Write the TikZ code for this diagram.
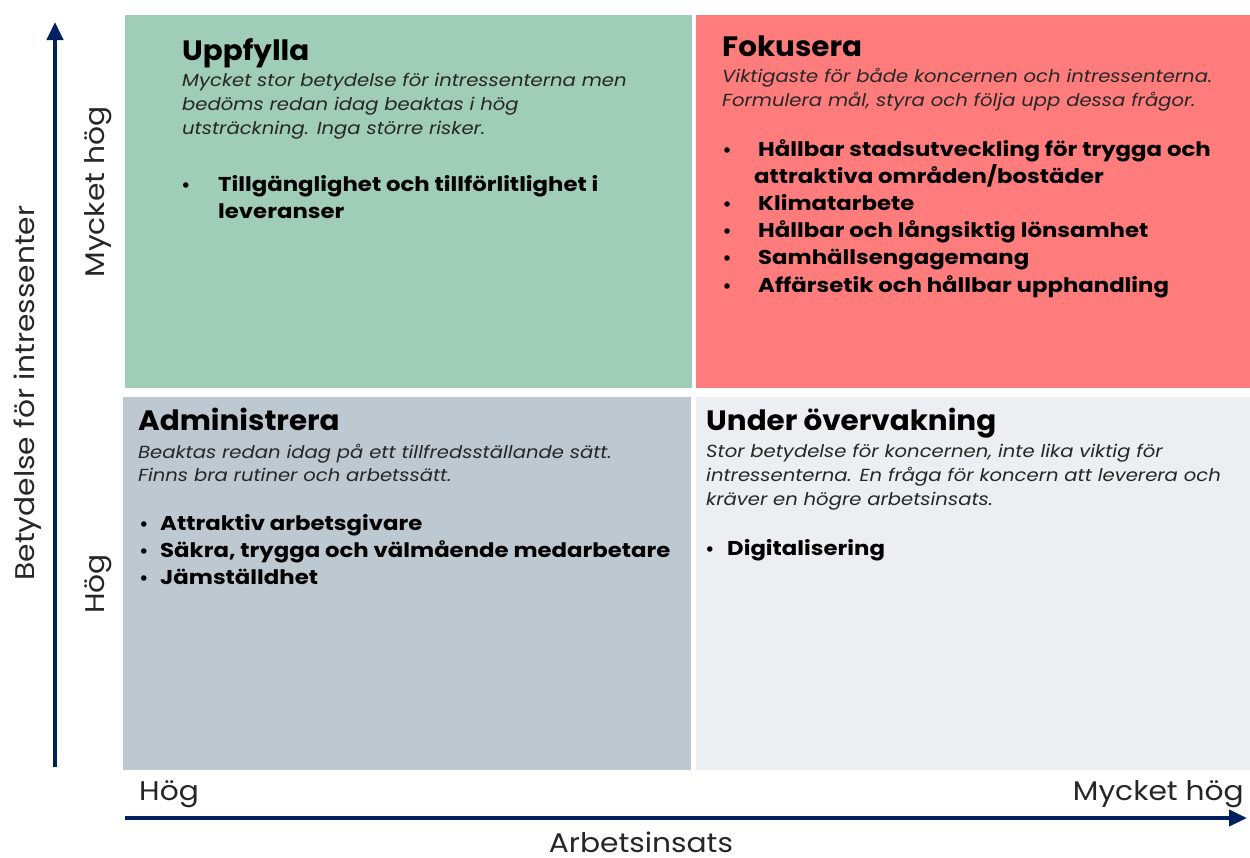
\documentclass[tikz,border=0pt]{standalone}
\usepackage{fontspec}
\setmainfont{Poppins}
\newfontfamily\fdesc[FakeStretch=1.12]{Poppins}
\newfontfamily\fitem[FakeStretch=1.14]{Poppins}
\newfontfamily\fttl[FakeStretch=1.05]{Poppins}
\newfontfamily\faxis[FakeStretch=1.10]{Poppins}
\usetikzlibrary{arrows.meta}
\definecolor{qgreen}{RGB}{159,205,183}
\definecolor{qred}{RGB}{255,124,124}
\definecolor{qblue}{RGB}{190,200,209}
\definecolor{qlight}{RGB}{237,238,242}
\definecolor{navy}{RGB}{0,32,96}
\begin{document}
\begin{tikzpicture}[x=1pt,y=-1pt,
  quad/.style={draw=none, inner sep=0pt, outer sep=0pt, anchor=north west},
  ttl/.style={anchor=base west, inner sep=0pt, font=\fttl\fontsize{28}{28}\selectfont\bfseries},
  desc/.style={anchor=base west, inner sep=0pt, font=\fdesc\fontsize{17.5}{17.5}\selectfont\itshape, text=black!85},
  item/.style={anchor=base west, inner sep=0pt, font=\fitem\fontsize{20}{20}\selectfont\bfseries},
  bul/.style={anchor=base, inner sep=0pt, font=\fontsize{18}{18}\selectfont\bfseries},
  axlab/.style={inner sep=0pt, font=\faxis\fontsize{27}{27}\selectfont, text=black!85},
  axis/.style={line width=4pt, draw=navy, -{Triangle[length=18pt,width=16pt]}}]
\path[use as bounding box] (0,0) rectangle (1250,857);
% quadrants
\node[quad, fill=qgreen, minimum width=567pt, minimum height=373pt] (q1) at (125,15) {};
\node[quad, fill=qred, minimum width=554pt, minimum height=373pt] (q2) at (696,15) {};
\node[quad, fill=qblue, minimum width=568pt, minimum height=373pt] (q3) at (123,397) {};
\node[quad, fill=qlight, minimum width=554pt, minimum height=373pt] (q4) at (696,397) {};
% Uppfylla
\node[ttl] (t1) at (182,60) {Uppfylla};
\node[desc] (d11) at (182,86) {Mycket stor betydelse för intressenterna men};
\node[desc] (d12) at (182,110) {bedöms redan idag beaktas i hög};
\node[desc] (d13) at (182,134) {utsträckning. Inga större risker.};
\node[bul] (b11) at (186,191) {•};
\node[item] (i11) at (218,191) {Tillgänglighet och tillförlitlighet i};
\node[item] (i12) at (218,218) {leveranser};
% Fokusera
\node[ttl] (t2) at (722,56) {Fokusera};
\node[desc] (d21) at (722,82) {Viktigaste för både koncernen och intressenterna.};
\node[desc] (d22) at (722,106) {Formulera mål, styra och följa upp dessa frågor.};
\node[bul] (b21) at (727,156) {•};
\node[item] (i21) at (758,156) {Hållbar stadsutveckling för trygga och};
\node[item] (i22) at (754,183) {attraktiva områden/bostäder};
\node[bul] (b22) at (727,210) {•};
\node[item] (i23) at (758,210) {Klimatarbete};
\node[bul] (b23) at (727,237) {•};
\node[item] (i24) at (758,237) {Hållbar och långsiktig lönsamhet};
\node[bul] (b24) at (727,264) {•};
\node[item] (i25) at (758,264) {Samhällsengagemang};
\node[bul] (b25) at (727,292) {•};
\node[item] (i26) at (758,292) {Affärsetik och hållbar upphandling};
% Administrera
\node[ttl] (t3) at (138,430) {Administrera};
\node[desc] (d31) at (138,458) {Beaktas redan idag på ett tillfredsställande sätt.};
\node[desc] (d32) at (138,481) {Finns bra rutiner och arbetssätt.};
\node[bul] (b31) at (144,530) {•};
\node[item] (i31) at (160,530) {Attraktiv arbetsgivare};
\node[bul] (b32) at (144,557) {•};
\node[item] (i32) at (160,557) {Säkra, trygga och välmående medarbetare};
\node[bul] (b33) at (144,584) {•};
\node[item] (i33) at (160,584) {Jämställdhet};
% Under övervakning
\node[ttl] (t4) at (706,430) {Under övervakning};
\node[desc] (d41) at (706,457) {Stor betydelse för koncernen, inte lika viktig för};
\node[desc] (d42) at (706,481) {intressenterna. En fråga för koncern att leverera och};
\node[desc] (d43) at (706,505) {kräver en högre arbetsinsats.};
\node[bul] (b41) at (710,555) {•};
\node[item] (i41) at (727,555) {Digitalisering};
% axes
\coordinate (ya) at (55,767);
\coordinate (yb) at (55,22);
\coordinate (xa) at (125,818);
\coordinate (xb) at (1247,818);
\draw[axis] (ya) -- (yb);
\draw[axis] (xa) -- (xb);
\node[axlab, anchor=base west] (xl1) at (139,800) {Hög};
\node[axlab, anchor=base east] (xl2) at (1244,800) {Mycket hög};
\node[axlab, anchor=base] (xt) at (641,852) {Arbetsinsats};
\node[axlab, rotate=90, anchor=base] (yt) at (34,393) {Betydelse för intressenter};
\node[axlab, rotate=90, anchor=base] (yl1) at (104,192) {Mycket hög};
\node[axlab, rotate=90, anchor=base] (yl2) at (104,584) {Hög};
\end{tikzpicture}
\end{document}
